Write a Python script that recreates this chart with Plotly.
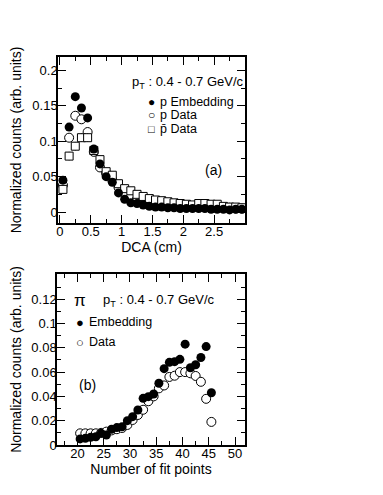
import plotly.graph_objects as go

# ---- panel (a): DCA distributions, bins of 0.1 cm
dca = [0.05, 0.15, 0.25, 0.35, 0.45, 0.55, 0.65, 0.75, 0.85, 0.95,
       1.05, 1.15, 1.25, 1.35, 1.45, 1.55, 1.65, 1.75, 1.85, 1.95,
       2.05, 2.15, 2.25, 2.35, 2.45, 2.55, 2.65, 2.75, 2.85, 2.95]
p_embed = [0.045, 0.120, 0.163, 0.147, 0.133, 0.089, 0.068, 0.050, 0.042, 0.027,
           0.018, 0.013, 0.012, 0.010, 0.008, 0.007, 0.007, 0.006, 0.006, 0.005,
           0.005, 0.005, 0.005, 0.005, 0.004, 0.004, 0.004, 0.003, 0.004, 0.004]
p_data = [0.038, 0.105, 0.136, 0.131, 0.113, 0.085, 0.063, 0.055, 0.045, 0.035,
          0.027, 0.021, 0.018, 0.016, 0.014, 0.012, 0.011, 0.010, 0.010, 0.009,
          0.008, 0.008, 0.008, 0.008, 0.007, 0.007, 0.006, 0.006, 0.005, 0.005]
pbar_data = [0.032, 0.079, 0.093, 0.105, 0.105, 0.087, 0.074, 0.057, 0.052, 0.040,
             0.033, 0.030, 0.025, 0.022, 0.019, 0.017, 0.016, 0.0145, 0.013, 0.012,
             0.011, 0.010, 0.012, 0.012, 0.011, 0.011, 0.008, 0.007, 0.007, 0.006]
pbar_err = [0.006, 0.006, 0.006, 0.006, 0.006, 0.004, 0.004, 0.003, 0.003, 0.002,
            0.002, 0.002, 0.002, 0.002, 0.002, 0.001, 0.001, 0.001, 0.001, 0.001,
            0.001, 0.001, 0.001, 0.001, 0.001, 0.001, 0.001, 0.001, 0.001, 0.001]

# ---- panel (b): number of fit points, pions
nfit = [20.5, 21.5, 22.5, 23.5, 24.5, 25.5, 26.5, 27.5, 28.5, 29.5, 30.5, 31.5, 32.5,
        33.5, 34.5, 35.5, 36.5, 37.5, 38.5, 39.5, 40.5, 41.5, 42.5, 43.5, 44.5, 45.5]
pi_embed = [0.0050, 0.0055, 0.0063, 0.0068, 0.0096, 0.0082, 0.013, 0.0143, 0.015, 0.020,
            0.0233, 0.0288, 0.0384, 0.0398, 0.042, 0.0508, 0.0628, 0.068, 0.0686, 0.0705,
            0.083, 0.0636, 0.066, 0.072, 0.081, 0.043]
pi_data = [0.0096, 0.0096, 0.0096, 0.0096, 0.010, 0.011, 0.012, 0.013, 0.014, 0.0165,
           0.0206, 0.0247, 0.029, 0.036, 0.040, 0.0466, 0.049, 0.056, 0.057, 0.060,
           0.060, 0.059, 0.0568, 0.052, 0.038, 0.019]

W, H = 383, 495
OFF = 8  # page body margin of the html output
FONT = "Liberation Sans, Arial, Helvetica, sans-serif"


def px(x):
    return (x - OFF) / W


def py(y):
    return 1 - (y - OFF) / H


open_marker = dict(symbol="circle", size=9, color="white", line=dict(color="black", width=1))
full_marker = dict(symbol="circle", size=9, color="black")

fig = go.Figure()

fig.add_trace(go.Scatter(x=dca, y=p_data, mode="markers", xaxis="x", yaxis="y",
                         marker=open_marker))
fig.add_trace(go.Scatter(x=dca, y=pbar_data, mode="markers", xaxis="x", yaxis="y",
                         error_y=dict(type="data", array=pbar_err, color="black",
                                      thickness=1, width=0),
                         marker=dict(symbol="square", size=8, color="white",
                                     line=dict(color="black", width=1))))
fig.add_trace(go.Scatter(x=dca, y=p_embed, mode="markers", xaxis="x", yaxis="y",
                         marker=full_marker))

fig.add_trace(go.Scatter(x=nfit, y=pi_data, mode="markers", xaxis="x2", yaxis="y2",
                         marker=open_marker))
fig.add_trace(go.Scatter(x=nfit, y=pi_embed, mode="markers", xaxis="x2", yaxis="y2",
                         marker=full_marker))

axis_style = dict(showline=True, linecolor="black", linewidth=1.5, mirror="ticks",
                  ticks="inside", ticklen=8, tickwidth=1, tickcolor="black",
                  showgrid=False, zeroline=False, automargin=False,
                  ticklabelstandoff=-4,
                  tickfont=dict(family=FONT, size=13, color="black"),
                  title_font=dict(family=FONT, size=14, color="black"))

fig.update_layout(
    width=W, height=H,
    margin=dict(l=0, r=0, t=0, b=0),
    paper_bgcolor="white", plot_bgcolor="white",
    showlegend=False,
    xaxis=dict(axis_style, domain=[px(58), px(245)], range=[-0.03, 3.0],
               tickvals=[0, 0.5, 1, 1.5, 2, 2.5], ticktext=["0", "0.5", "1", "1.5", "2", "2.5"],
               minor=dict(ticks="inside", ticklen=4, dtick=0.25, tick0=0, tickcolor="black"),
               title=dict(text="DCA (cm)", standoff=0), anchor="y"),
    yaxis=dict(axis_style, domain=[py(223), py(57)], range=[-0.0155, 0.219],
               tickvals=[0, 0.05, 0.1, 0.15, 0.2], ticktext=["0", "0.05", "0.1", "0.15", "0.2"],
               minor=dict(ticks="inside", ticklen=4, dtick=0.025, tick0=0, tickcolor="black"),
               title=dict(text="Normalized counts (arb. units)", standoff=8), anchor="x"),
    xaxis2=dict(axis_style, domain=[px(57), px(245)], range=[16.1, 51.9],
                tickvals=[20, 25, 30, 35, 40, 45, 50],
                minor=dict(ticks="inside", ticklen=4, dtick=2.5, tick0=0, tickcolor="black"),
                title=dict(text="Number of fit points", standoff=2), anchor="y2"),
    yaxis2=dict(axis_style, domain=[py(445), py(274)], range=[0, 0.1407],
                tickvals=[0, 0.02, 0.04, 0.06, 0.08, 0.1, 0.12],
                ticktext=["0", "0.02", "0.04", "0.06", "0.08", "0.1", "0.12"],
                minor=dict(ticks="inside", ticklen=4, dtick=0.01, tick0=0, tickcolor="black"),
                title=dict(text="Normalized counts (arb. units)", standoff=8), anchor="x2"),
)


def label(text, x, y, size=13, xanchor="left"):
    fig.add_annotation(text=text, x=px(x), y=py(y), xref="paper", yref="paper",
                       xanchor=xanchor, yanchor="middle", showarrow=False,
                       font=dict(family=FONT, size=size, color="black"))


# panel (a) labels and legend
label("p<sub>T</sub> : 0.4 - 0.7 GeV/c", 130, 83)
label("\u25CF", 151.5, 102, size=12, xanchor="center")
label("p Embedding", 158, 102, size=12.5)
label("\u25CB", 151.5, 115, size=12, xanchor="center")
label("p Data", 158, 115, size=12.5)
label("\u25A1", 151.5, 129, size=11, xanchor="center")
label("p\u0304 Data", 158, 129, size=12.5)
label("(a)", 213, 170, size=14, xanchor="center")

# panel (b) labels and legend
label("\u03C0", 80, 300, size=17, xanchor="center")
label("p<sub>T</sub> : 0.4 - 0.7 GeV/c", 101, 300)
label("\u25CF", 80, 322, size=13, xanchor="center")
label("Embedding", 87, 322, size=12.5)
label("\u25CB", 80, 342, size=13, xanchor="center")
label("Data", 87, 342, size=12.5)
label("(b)", 87, 385, size=14, xanchor="center")

fig.write_html("out.html")
